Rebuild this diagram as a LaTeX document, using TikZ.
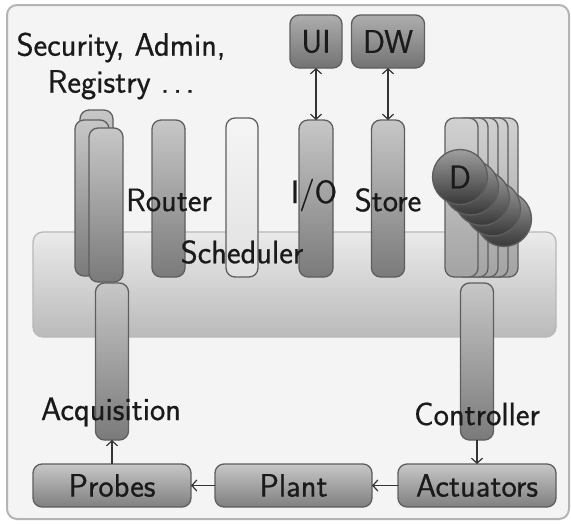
\documentclass[tikz,border=0pt]{standalone}
\usepackage{fontspec}
\newfontfamily\diagfont{Latin Modern Sans}[FakeBold=0.6]
\usetikzlibrary{arrows.meta}
\definecolor{frameline}{HTML}{B4B4B4}
\definecolor{framefill}{HTML}{F4F4F4}
\definecolor{edge}{HTML}{5E5E5E}
\definecolor{txt}{HTML}{1A1A1A}
\begin{document}
\begin{tikzpicture}[x=1pt,y=-1pt,
  every node/.style={inner sep=0pt, outer sep=0pt, text=txt, font=\fontsize{32.5}{37}\selectfont\diagfont},
  darkpillar/.style={draw=edge, line width=1.3pt, rounded corners=9pt, top color=black!22, bottom color=black!52, minimum width=33pt, minimum height=157pt},
  lightpillar/.style={draw=edge, line width=1.3pt, rounded corners=9pt, top color=black!4, bottom color=black!12, minimum width=32pt, minimum height=159pt},
  dpillar/.style={draw=edge, line width=1.3pt, rounded corners=9pt, top color=black!18, bottom color=black!36, minimum width=33pt, minimum height=159pt},
  dcircle/.style={draw=edge, line width=1.3pt, circle, minimum size=55pt, top color=black!38, bottom color=black!78},
  boxnode/.style={draw=edge, line width=1.3pt, rounded corners=9pt, top color=black!22, bottom color=black!50, minimum height=43pt},
  topbox/.style={draw=edge, line width=1.3pt, rounded corners=9pt, top color=black!32, bottom color=black!55, minimum height=53pt},
  bigbox/.style={draw=black!28, line width=1.3pt, rounded corners=10pt, top color=black!8, bottom color=black!27},
  lbl/.style={fill=none},
  tipstyle/.style={},
  arr/.style={draw=black!80, line width=1.2pt, arrows={-Straight Barb[length=5pt,width=11pt]}},
  biarr/.style={draw=black!80, line width=1.2pt, arrows={Straight Barb[length=5pt,width=11pt]-Straight Barb[length=5pt,width=11pt]}}
]
\useasboundingbox (0,0) rectangle (571,525);
% outer frame
\path[draw=frameline, fill=framefill, line width=2pt, rounded corners=10pt] (7,5) rectangle (569,519);
% scheduler base box
\node[bigbox, minimum width=523pt, minimum height=105pt] (sched) at (294.5,284.5) {};
% security stack
\node[darkpillar, minimum height=160pt] (sec3) at (96.5,190) {};
\node[darkpillar, minimum height=156pt, minimum width=34pt] (sec2) at (92,198) {};
\node[darkpillar, minimum height=154pt, minimum width=34pt] (sec1) at (106,205) {};
% pillars
\node[darkpillar] (router) at (168.5,198.5) {};
\node[lightpillar] (schedp) at (242,197.5) {};
\node[darkpillar, minimum width=34pt] (io) at (316,198.5) {};
\node[darkpillar] (store) at (388,198.5) {};
% D stack
\foreach \i in {4,3,2,1,0} {
  \node[dpillar] (dp\i) at ({461.5+10*\i},197.5) {};
}
\foreach \i in {4,3,2,1} {
  \node[dcircle] (dc\i) at ({460+11*\i},{177+10.5*\i}) {};
}
\node[dcircle] (dc0) at (460,177) {D};
% acquisition / controller
\node[darkpillar] (acq) at (112,361.5) {};
\node[darkpillar] (ctrl) at (477,361.5) {};
% bottom boxes
\node[boxnode, minimum width=158pt] (probes) at (112,485.5) {Probes};
\node[boxnode, minimum width=157pt] (plant) at (293.5,485.5) {Plant};
\node[boxnode, minimum width=158pt] (act) at (477,485.5) {Actuators};
% top boxes
\node[topbox, minimum width=52pt] (ui) at (316,41.5) {UI};
\node[topbox, minimum width=73pt] (dw) at (388,41.5) {DW};
% labels
\node[lbl, align=center] (seclbl) at (121,66) {Security, Admin,\\Registry .\kern4pt.\kern4pt.};
\node[lbl] (routerlbl) at (169,200) {Router};
\node[lbl] (schedlbl) at (242,252) {Scheduler};
\node[lbl] (iolbl) at (314,195) {I/O};
\node[lbl] (storelbl) at (388,200) {Store};
\node[lbl] (acqlbl) at (111,412) {Acquisition};
\node[lbl] (ctrllbl) at (477,414) {Controller};
% connectors
\draw[biarr] (ui) -- (io);
\draw[biarr] (dw) -- (store);
\draw[arr] (ctrl) -- (act);
\draw[arr] (act) -- (plant);
\draw[arr] (plant) -- (probes);
\draw[arr] (probes) -- (acq);
\end{tikzpicture}
\end{document}
